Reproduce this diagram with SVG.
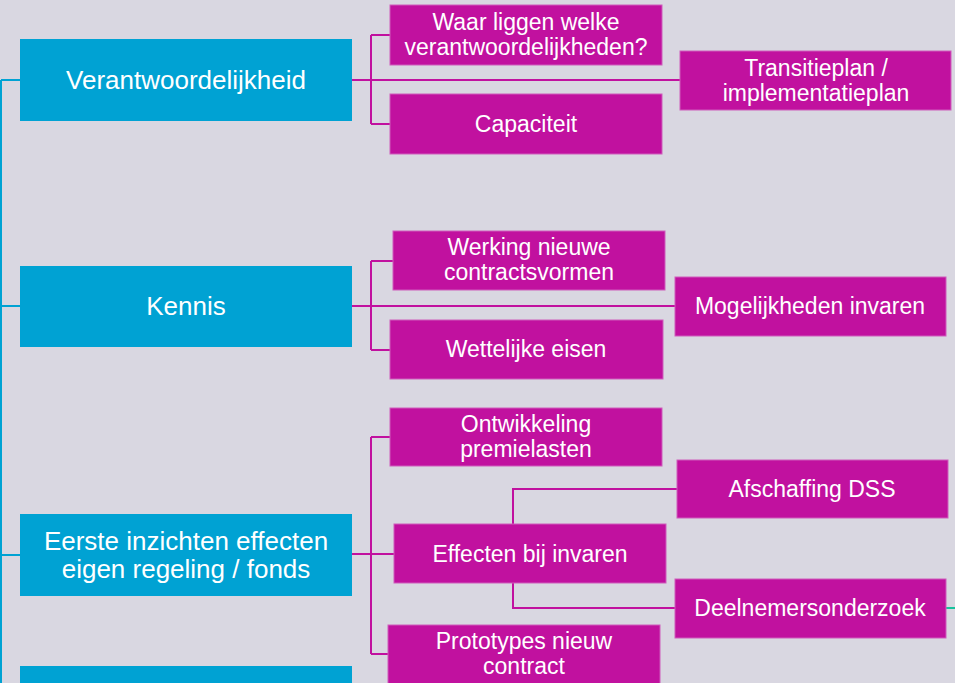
<svg xmlns="http://www.w3.org/2000/svg" width="955" height="683" viewBox="0 0 955 683">
<style>
.bg{fill:#D9D7E1}
.blue{fill:#00A2D3}
.mag{fill:#C1119F;stroke:#CF5CBC;stroke-width:1}
.tb{font-family:"Liberation Sans",Arial,sans-serif;font-size:26px;fill:#FFFFFF;text-anchor:middle}
.tm{font-family:"Liberation Sans",Arial,sans-serif;font-size:23px;fill:#FFFFFF;text-anchor:middle}
.cb{fill:none;stroke:#00A2D3;stroke-width:2}
.cm{fill:none;stroke:#C1119F;stroke-width:2}
.ct{fill:none;stroke:#17C29C;stroke-width:2}
</style>
<rect class="bg" x="0" y="0" width="955" height="683"/>
<g id="connectors">
<path class="cb" d="M1,80 V683 M1,80 H20 M1,306 H20 M1,555 H20"/>
<path class="cm" d="M352,80 H680 M371,35 V124 M371,35 H390 M371,124 H390"/>
<path class="cm" d="M352,306 H675 M371,261 V350 M371,261 H393 M371,350 H390"/>
<path class="cm" d="M352,554 H394 M371,437 V654 M371,437 H390 M371,654 H388"/>
<path class="cm" d="M513,524 V489 H677 M513,583 V608 H675"/>
<path class="ct" d="M946,608 H955"/>
</g>
<g id="n-verantwoordelijkheid">
<rect class="blue" x="20" y="39" width="332" height="82"/>
<text class="tb" x="186" y="89">Verantwoordelijkheid</text>
</g>
<g id="n-kennis">
<rect class="blue" x="20" y="266" width="332" height="81"/>
<text class="tb" x="186" y="315">Kennis</text>
</g>
<g id="n-eerste">
<rect class="blue" x="20" y="514" width="332" height="82"/>
<text class="tb" x="186" y="550">Eerste inzichten effecten</text>
<text class="tb" x="186" y="578">eigen regeling / fonds</text>
</g>
<g id="n-blue4">
<rect class="blue" x="20" y="666" width="332" height="20"/>
</g>
<g id="n-waar">
<rect class="mag" x="390" y="5" width="272" height="60"/>
<text class="tm" x="526" y="30">Waar liggen welke</text>
<text class="tm" x="526" y="55">verantwoordelijkheden?</text>
</g>
<g id="n-transitieplan">
<rect class="mag" x="680" y="51" width="271" height="59"/>
<text class="tm" x="816" y="76">Transitieplan /</text>
<text class="tm" x="816" y="101">implementatieplan</text>
</g>
<g id="n-capaciteit">
<rect class="mag" x="390" y="94" width="272" height="60"/>
<text class="tm" x="526" y="132">Capaciteit</text>
</g>
<g id="n-werking">
<rect class="mag" x="393" y="231" width="272" height="59"/>
<text class="tm" x="529" y="255">Werking nieuwe</text>
<text class="tm" x="529" y="280">contractsvormen</text>
</g>
<g id="n-mogelijkheden">
<rect class="mag" x="675" y="277" width="271" height="59"/>
<text class="tm" x="810" y="314">Mogelijkheden invaren</text>
</g>
<g id="n-wettelijke">
<rect class="mag" x="390" y="320" width="273" height="59"/>
<text class="tm" x="526" y="357">Wettelijke eisen</text>
</g>
<g id="n-ontwikkeling">
<rect class="mag" x="390" y="408" width="272" height="58"/>
<text class="tm" x="526" y="432">Ontwikkeling</text>
<text class="tm" x="526" y="457">premielasten</text>
</g>
<g id="n-afschaffing">
<rect class="mag" x="677" y="460" width="271" height="58"/>
<text class="tm" x="812" y="497">Afschaffing DSS</text>
</g>
<g id="n-effecten">
<rect class="mag" x="394" y="524" width="272" height="59"/>
<text class="tm" x="530" y="562">Effecten bij invaren</text>
</g>
<g id="n-deelnemers">
<rect class="mag" x="675" y="579" width="271" height="59"/>
<text class="tm" x="810" y="616">Deelnemersonderzoek</text>
</g>
<g id="n-prototypes">
<rect class="mag" x="388" y="625" width="272" height="62"/>
<text class="tm" x="524" y="649">Prototypes nieuw</text>
<text class="tm" x="524" y="674">contract</text>
</g>
</svg>
